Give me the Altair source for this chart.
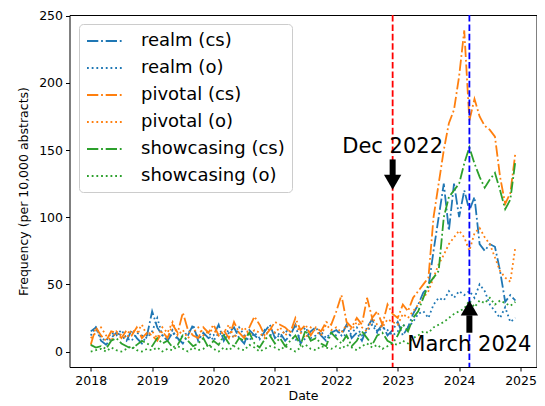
import altair as alt
import pandas as pd

# ---------------- data ----------------
years = list(range(2018, 2025))
months = [y + m / 12 for y in years for m in range(12)]

series_names = ["realm (cs)", "realm (o)", "pivotal (cs)", "pivotal (o)",
                "showcasing (cs)", "showcasing (o)"]

realm_cs = [15, 18, 8, 5, 10, 14, 12, 8, 16, 10, 6, 12,
            30, 18, 12, 8, 14, 10, 6, 12, 20, 8, 14, 10,
            12, 20, 8, 14, 18, 10, 6, 16, 12, 9, 15, 20,
            10, 14, 8, 12, 20, 6, 10, 15, 18, 12, 8, 14,
            16, 12, 20, 10, 14, 8, 18, 24, 15, 20, 12, 16,
            22, 12, 18, 28, 35, 44, 48, 75, 100, 125, 90, 125,
            100, 120, 105, 115, 80, 75, 80, 78, 60, 37, 42, 38]
realm_o = [12, 18, 10, 8, 14, 12, 16, 10, 8, 14, 12, 10,
           15, 25, 12, 10, 16, 8, 12, 14, 18, 10, 12, 15,
           8, 14, 12, 16, 10, 18, 12, 8, 14, 10, 16, 12,
           14, 10, 16, 12, 8, 14, 18, 10, 12, 15, 10, 14,
           12, 16, 10, 14, 18, 12, 15, 20, 14, 18, 16, 12,
           15, 20, 18, 22, 28, 30, 25, 35, 40, 38, 45, 40,
           45, 42, 45, 40, 50, 45, 35, 30, 25, 33, 22, 25]
pivotal_cs = [5, 18, 12, 8, 15, 14, 10, 16, 12, 18, 10, 14,
              12, 8, 15, 10, 20, 14, 29, 16, 12, 10, 18, 14,
              20, 12, 16, 10, 22, 14, 10, 18, 26, 20, 12, 16,
              22, 20, 18, 14, 25, 16, 20, 12, 18, 15, 22, 20,
              30, 42, 22, 18, 25, 20, 40, 25, 30, 20, 35, 28,
              25, 35, 30, 40, 45, 50, 55, 100, 125, 150, 170, 180,
              205, 239, 172, 188, 175, 168, 165, 160, 130, 110, 118, 148]
pivotal_o = [10, 14, 18, 12, 8, 15, 12, 10, 16, 14, 20, 12,
             15, 10, 18, 14, 22, 12, 16, 10, 14, 18, 12, 15,
             16, 12, 14, 20, 10, 15, 18, 12, 16, 14, 10, 18,
             14, 18, 12, 16, 20, 14, 10, 18, 15, 12, 20, 16,
             18, 14, 20, 16, 22, 18, 15, 25, 20, 18, 24, 22,
             20, 28, 25, 30, 35, 40, 45, 55, 65, 72, 80, 85,
             90, 85, 75, 88, 92, 85, 80, 70, 60, 55, 52, 78]
showcasing_cs = [5, 3, 4, 2, 8, 10, 6, 4, 2, 5, 8, 6,
                 4, 10, 6, 8, 3, 5, 12, 8, 4, 6, 10, 3,
                 8, 5, 12, 6, 4, 10, 8, 14, 6, 3, 9, 12,
                 6, 10, 4, 8, 12, 5, 16, 8, 10, 6, 4, 14,
                 10, 6, 12, 4, 8, 15, 10, 5, 12, 14, 8, 6,
                 12, 20, 15, 25, 30, 40, 50, 55, 60, 100, 115, 120,
                 125, 140, 152, 140, 130, 122, 128, 133, 120, 106, 113, 142]
showcasing_o = [0, 1, 2, 0, 3, 1, 0, 2, 4, 1, 0, 2,
                1, 3, 0, 2, 1, 4, 2, 0, 3, 1, 2, 5,
                2, 0, 3, 1, 4, 2, 1, 5, 3, 0, 2, 4,
                3, 1, 4, 2, 0, 3, 5, 2, 1, 4, 3, 2,
                4, 2, 5, 3, 1, 4, 6, 3, 5, 2, 4, 6,
                5, 8, 6, 10, 12, 15, 14, 18, 20, 22, 25, 28,
                30, 32, 38, 33, 38, 36, 40, 35, 38, 36, 34, 37]

event_dates = [2022.917, 2024.167]
event_labels = ["Dec 2022", "March 2024"]
x_ticks = [2018, 2019, 2020, 2021, 2022, 2023, 2024, 2025]
y_ticks = [0, 50, 100, 150, 200, 250]

# ---------------- styles ----------------
series_colors = ["#1f77b4", "#1f77b4", "#ff7f0e", "#ff7f0e", "#2ca02c", "#2ca02c"]
dashdot = [11.3, 2.8, 1.8, 2.8]
dotted = [1.8, 2.9]
series_dashes = [dashdot, dotted, dashdot, dotted, dashdot, dotted]
event_colors = ["red", "blue"]
FONT = "DejaVu Sans"

all_values = [realm_cs, realm_o, pivotal_cs, pivotal_o, showcasing_cs, showcasing_o]
rows = []
for name, vals in zip(series_names, all_values):
    for d, v in zip(months, vals):
        rows.append({"date": d, "value": v, "series": name})
df = pd.DataFrame(rows)

xscale = alt.Scale(domain=[2017.654, 2025.26], nice=False, zero=False)
yscale = alt.Scale(domain=[-11.5, 250.5], nice=False, zero=False)

legend = alt.Legend(
    title=None, orient="none", legendX=9.5, legendY=9,
    labelFontSize=18, labelFont=FONT, labelColor="black",
    symbolType="M-1,0H3.1", symbolSize=324, symbolStrokeWidth=2,
    labelOffset=35, rowPadding=8, padding=7,
    strokeColor="#cccccc", fillColor="white", cornerRadius=4,
)

lines = alt.Chart(df).mark_line(strokeWidth=1.8, clip=True).encode(
    x=alt.X("date:Q", scale=xscale,
            axis=alt.Axis(values=x_ticks, format="d", title="Date")),
    y=alt.Y("value:Q", scale=yscale,
            axis=alt.Axis(values=y_ticks, title="Frequency (per 10,000 abstracts)")),
    color=alt.Color("series:N", scale=alt.Scale(domain=series_names, range=series_colors),
                    legend=legend, sort=series_names),
    strokeDash=alt.StrokeDash("series:N", scale=alt.Scale(domain=series_names, range=series_dashes),
                              legend=legend, sort=series_names),
    detail="series:N",
)

ev = pd.DataFrame({"date": event_dates, "label": event_labels, "c": event_colors})
vlines = alt.Chart(ev).mark_rule(strokeWidth=1.8, strokeDash=[6.6, 2.8]).encode(
    x=alt.X("date:Q", scale=xscale),
    color=alt.Color("c:N", scale=None),
)

# annotation arrows (data coordinates)
shaft_df = pd.DataFrame({"date": event_dates, "y1": [143, 14], "y2": [130, 27]})
shafts = alt.Chart(shaft_df).mark_rule(strokeWidth=6, color="black").encode(
    x=alt.X("date:Q", scale=xscale),
    y=alt.Y("y1:Q", scale=yscale),
    y2="y2:Q",
)
head_df = pd.DataFrame({"date": event_dates, "y": [126, 32.5],
                        "shape": ["triangle-down", "triangle-up"]})
heads = alt.Chart(head_df).mark_point(filled=True, size=300, opacity=1, color="black").encode(
    x=alt.X("date:Q", scale=xscale),
    y=alt.Y("y:Q", scale=yscale),
    shape=alt.Shape("shape:N", scale=None),
)
text_df = pd.DataFrame({"date": event_dates, "y": [147.5, 0.6], "label": event_labels})
texts = alt.Chart(text_df).mark_text(fontSize=21, font=FONT, align="center",
                                     baseline="alphabetic", color="black").encode(
    x=alt.X("date:Q", scale=xscale),
    y=alt.Y("y:Q", scale=yscale),
    text="label:N",
)

chart = alt.layer(lines, vlines, shafts, heads, texts).properties(
    width=467, height=352,
    autosize=alt.AutoSizeParams(type="none"),
    padding={"left": 61.5, "top": 7, "right": 0.5, "bottom": 39},
).configure_view(
    stroke="black", strokeWidth=1,
).configure_axis(
    grid=False, domain=False,
    labelFont=FONT, titleFont=FONT, labelFontSize=12.5, titleFontSize=12.5,
    labelColor="black", titleColor="black", titleFontWeight="normal",
    tickColor="black", tickSize=4, tickWidth=1, labelPadding=3,
).configure_axisX(titlePadding=3).configure_axisY(titlePadding=8)

chart.save("out.html", embed_options={"renderer": "svg", "actions": False})
